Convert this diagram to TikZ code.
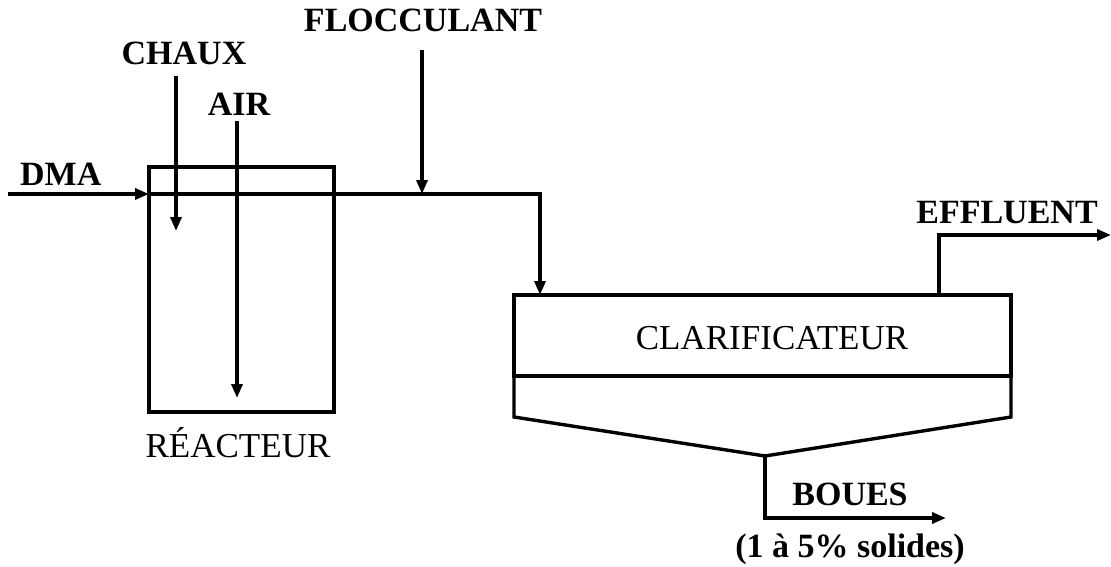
\documentclass[tikz,border=0pt]{standalone}
\usepackage{fontspec}
\setmainfont{Liberation Serif}
\usetikzlibrary{arrows.meta}
\begin{document}
\begin{tikzpicture}[x=1pt,y=-1pt,
  line/.style={line width=3.4pt},
  flow/.style={line width=3.4pt,-{Triangle[length=14pt,width=11pt]}},
  lbl/.style={font=\bfseries\fontsize{34}{40}\selectfont,inner sep=0pt,anchor=base},
  txt/.style={font=\fontsize{35}{40}\selectfont,inner sep=0pt,anchor=base},
  tank/.style={draw,line width=3.4pt,inner sep=0pt,outer sep=0pt}]
\useasboundingbox (0,0) rectangle (1111,567);
% vessels
\node[tank,minimum width=185pt,minimum height=245pt] (reac) at (241.5,289.5) {};
\node[tank,minimum width=497pt,minimum height=81pt] (clar) at (762.5,335.5) {};
\coordinate (hopL) at (514,417);
\coordinate (hopR) at (1011,417);
\coordinate (hopB) at (765,456);
\draw[line] (clar.south west) -- (hopL) -- (hopB) -- (hopR) -- (clar.south east);
% labels
\node[lbl] (flocT) at (423,32) {FLOCCULANT};
\node[lbl] (chauxT) at (184,65) {CHAUX};
\node[lbl] (airT) at (239,116) {AIR};
\node[lbl,anchor=base west] (dmaT) at (20,185) {DMA};
\node[lbl] (effT) at (1007,223) {EFFLUENT};
\node[lbl] (bouesT) at (850,505) {BOUES};
\node[lbl] (solT) at (850,557) {(1 à 5\% solides)};
\node[txt] (clarT) at (772,349) {CLARIFICATEUR};
\node[txt] (reacT) at (238,457) {RÉACTEUR};
% flows
\coordinate (dmaS) at (8,194);
\coordinate (dmaE) at (149,194);
\draw[flow] (dmaS) -- (dmaE);
\coordinate (bend) at (540,194);
\coordinate (flocS) at (422,50);
\coordinate (flocE) at (422,194);
\draw[flow] (dmaE) -- (bend) -- (bend |- clar.north);
\draw[flow] (flocS) -- (flocE);
\coordinate (chauxS) at (176,76);
\coordinate (chauxE) at (176,231);
\draw[flow] (chauxS) -- (chauxE);
\coordinate (airS) at (237,121);
\coordinate (airE) at (237,398);
\draw[flow] (airS) -- (airE);
\coordinate (effB) at (939,295);
\coordinate (effK) at (939,235);
\coordinate (effE) at (1111,235);
\draw[flow] (effB) -- (effK) -- (effE);
\coordinate (bouK) at (765,518);
\coordinate (bouE) at (946,518);
\draw[flow] (hopB) -- (bouK) -- (bouE);
\end{tikzpicture}
\end{document}
